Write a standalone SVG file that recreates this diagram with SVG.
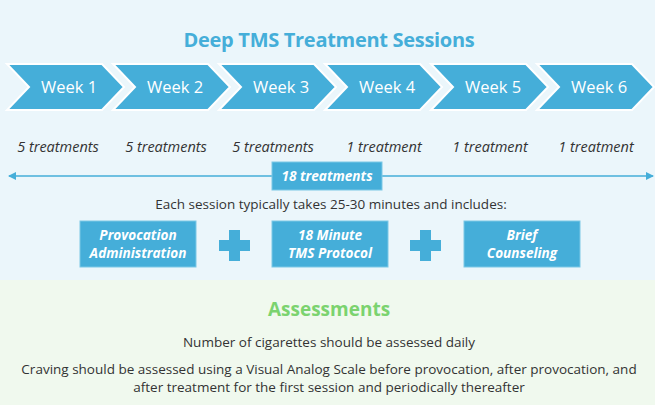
<svg xmlns="http://www.w3.org/2000/svg" width="663" height="409" viewBox="0 0 663 409">
<defs>
<style>
.chev{fill:#45aed9;stroke:#fff;stroke-width:2}
.wk{font-family:"Open Sans",sans-serif;font-size:16.5px;fill:#fff;text-anchor:middle}
.tr{font-family:"Open Sans",sans-serif;font-size:14.5px;font-style:italic;fill:#333;text-anchor:middle}
.box{fill:#45aed9;stroke:#7cc8e6;stroke-width:1}
.bt{font-family:"Open Sans",sans-serif;font-size:13.6px;font-style:italic;font-weight:bold;fill:#fff;text-anchor:middle}
.body{font-family:"Open Sans",sans-serif;font-size:13.5px;fill:#333;text-anchor:middle}
</style>
<marker id="ah" markerWidth="8" markerHeight="8" refX="7" refY="4" orient="auto-start-reverse" markerUnits="userSpaceOnUse"><path d="M0,0 L8,4 L0,8 z" fill="#45aed9"/></marker>
</defs>
<rect width="663" height="409" fill="#fff"/>
<rect x="0" y="0" width="655" height="280" fill="#ebf6fb"/>
<rect x="0" y="280" width="655" height="125" fill="#f0f9ee"/>
<text x="329" y="47" font-family="Open Sans,sans-serif" font-size="20" font-weight="bold" fill="#45aed9" text-anchor="middle" letter-spacing="-0.3">Deep TMS Treatment Sessions</text>
<g id="week1"><path class="chev" d="M7,64 H102 L124,87 L102,110 H7 L29,87 Z"/><text class="wk" x="69" y="93">Week 1</text></g>
<g id="week2"><path class="chev" d="M113,64 H208 L230,87 L208,110 H113 L135,87 Z"/><text class="wk" x="175" y="93">Week 2</text></g>
<g id="week3"><path class="chev" d="M219,64 H314 L336,87 L314,110 H219 L241,87 Z"/><text class="wk" x="281" y="93">Week 3</text></g>
<g id="week4"><path class="chev" d="M325,64 H420 L442,87 L420,110 H325 L347,87 Z"/><text class="wk" x="387" y="93">Week 4</text></g>
<g id="week5"><path class="chev" d="M431,64 H526 L548,87 L526,110 H431 L453,87 Z"/><text class="wk" x="493" y="93">Week 5</text></g>
<g id="week6"><path class="chev" d="M537,64 H632 L654,87 L632,110 H537 L559,87 Z"/><text class="wk" x="599" y="93">Week 6</text></g>
<g id="treatments">
<text class="tr" x="58" y="152">5 treatments</text>
<text class="tr" x="166" y="152">5 treatments</text>
<text class="tr" x="273" y="152">5 treatments</text>
<text class="tr" x="384" y="152">1 treatment</text>
<text class="tr" x="490" y="152">1 treatment</text>
<text class="tr" x="596" y="152">1 treatment</text>
</g>
<g id="connectors">
<line x1="9" y1="176" x2="653" y2="176" stroke="#45aed9" stroke-width="1.5" marker-start="url(#ah)" marker-end="url(#ah)"/>
</g>
<g id="total"><rect class="box" x="272" y="162" width="110" height="28"/><text class="bt" x="327" y="181">18 treatments</text></g>
<text class="body" x="331" y="209">Each session typically takes 25-30 minutes and includes:</text>
<g id="provocation"><rect class="box" x="80" y="221" width="116" height="46"/><text class="bt" x="138" y="240">Provocation</text><text class="bt" x="138" y="258">Administration</text></g>
<g id="plus1"><path d="M229,230 h11 v10 h10 v11 h-10 v10 h-11 v-10 h-10 v-11 h10 z" fill="#45aed9"/></g>
<g id="protocol"><rect class="box" x="272" y="221" width="116" height="46"/><text class="bt" x="330" y="240">18 Minute</text><text class="bt" x="330" y="258">TMS Protocol</text></g>
<g id="plus2"><path d="M420,230 h11 v10 h10 v11 h-10 v10 h-11 v-10 h-10 v-11 h10 z" fill="#45aed9"/></g>
<g id="counseling"><rect class="box" x="464" y="221" width="116" height="46"/><text class="bt" x="522" y="240">Brief</text><text class="bt" x="522" y="258">Counseling</text></g>
<text x="329" y="316" font-family="Open Sans,sans-serif" font-size="19" font-weight="bold" fill="#7bd36f" text-anchor="middle">Assessments</text>
<text class="body" x="329" y="347">Number of cigarettes should be assessed daily</text>
<text class="body" x="329" y="374">Craving should be assessed using a Visual Analog Scale before provocation, after provocation, and</text>
<text class="body" x="329" y="392">after treatment for the first session and periodically thereafter</text>
</svg>
